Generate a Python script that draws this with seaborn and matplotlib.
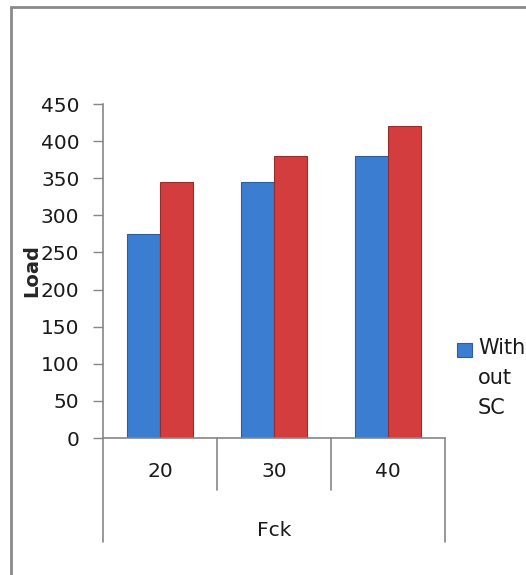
import numpy as np
import pandas as pd
import matplotlib.pyplot as plt
import matplotlib.patches as mpatches
import matplotlib.transforms as mtransforms
import seaborn as sns

# chart values
fck = ["20", "30", "40"]
without_sc = [275, 345, 380]
with_sc = [345, 380, 420]
series_names = ["With\nout\nSC", "With SC"]

df = pd.DataFrame({
    "Fck": fck * 2,
    "Load": without_sc + with_sc,
    "Series": [series_names[0]] * 3 + [series_names[1]] * 3,
})

sns.set_style("white")
plt.rcParams["font.family"] = ["DejaVu Sans"]

fig = plt.figure(figsize=(5.26, 5.75), dpi=100)
ax = fig.add_axes([103 / 526, 1 - 438 / 575, 342 / 526, 334 / 575])

colors = ["#3B7DD0", "#D33D3D"]
sns.barplot(data=df, x="Fck", y="Load", hue="Series", palette=colors,
            width=0.58, gap=0, ax=ax, legend=False, saturation=1)

edge_cols = ["#2B5E9C", "#9C2C2C"]
for cont, ec in zip(ax.containers, edge_cols):
    for bar in cont:
        bar.set_edgecolor(ec)
        bar.set_linewidth(0.8)

ax.set_ylim(0, 450)
ax.set_xlim(-0.5, 2.5)
ax.set_yticks(np.arange(0, 451, 50))
ax.tick_params(axis="y", labelsize=14.5, length=7, width=1, color="#868686",
               direction="out", pad=10, left=True, labelcolor="#1a1a1a")
ax.tick_params(axis="x", labelsize=14.5, length=0, pad=17, labelcolor="#1a1a1a")

for s in ["top", "right"]:
    ax.spines[s].set_visible(False)
for s in ["left", "bottom"]:
    ax.spines[s].set_color("#868686")
    ax.spines[s].set_linewidth(1.2)

ax.set_ylabel("Load", fontsize=14, fontweight="bold")
ax.yaxis.set_label_coords(-62 / 342, 0.5)
ax.set_xlabel("Fck", fontsize=14.5, labelpad=29, color="#1a1a1a")

# category separator lines under the x axis
trans = mtransforms.blended_transform_factory(ax.transData, ax.transAxes)
for xpos, depth in [(-0.5, -104 / 334), (0.5, -52 / 334), (1.5, -52 / 334), (2.5, -104 / 334)]:
    ax.plot([xpos, xpos], [0, depth], color="#868686", lw=1.2,
            transform=trans, clip_on=False)

# legend (only the first entry shows, cut off at the right edge)
fig.patches.append(mpatches.Rectangle((457 / 526, 1 - 357 / 575), 15 / 526, 14 / 575,
                                      transform=fig.transFigure,
                                      facecolor=colors[0], edgecolor=edge_cols[0], lw=0.8))
fig.text(478 / 526, 1 - 338 / 575, series_names[0], fontsize=15, va="top",
         ha="left", linespacing=1.62, color="#1a1a1a")

# chart frame
fig.patches.append(mpatches.Rectangle((11 / 526, -0.05), 1.2, 1 - 7 / 575 + 0.05,
                                      transform=fig.transFigure, fill=False,
                                      edgecolor="#8a8a8a", lw=2))

fig.savefig("out.png", dpi=100)
